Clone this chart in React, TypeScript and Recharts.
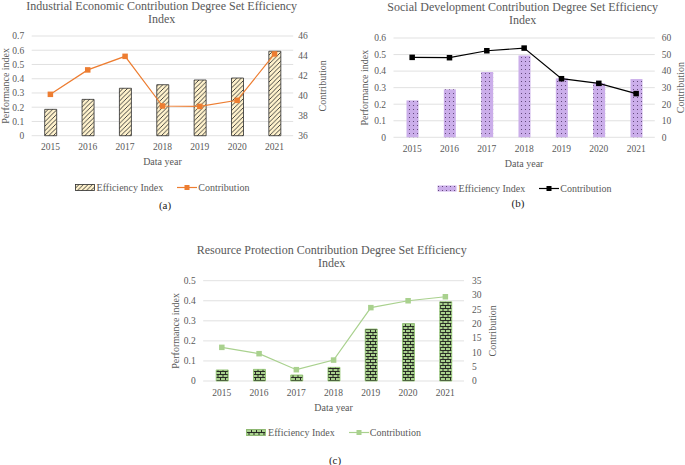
import React from "react";
import {
  ComposedChart,
  Bar,
  Line,
  XAxis,
  YAxis,
  CartesianGrid,
  Legend,
} from "recharts";

const years = ["2015", "2016", "2017", "2018", "2019", "2020", "2021"];

const industrialIndex = [0.185, 0.255, 0.333, 0.358, 0.391, 0.405, 0.593];
const industrialContribution = [40.15, 42.6, 43.96, 38.98, 38.94, 39.55, 44.2];
const industrialIndexTicks = [0, 0.1, 0.2, 0.3, 0.4, 0.5, 0.6, 0.7];
const industrialContributionTicks = [36, 38, 40, 42, 44, 46];

const socialIndex = [0.223, 0.29, 0.394, 0.495, 0.356, 0.326, 0.352];
const socialContribution = [48.3, 48.1, 52.3, 53.9, 35.4, 32.6, 26.4];
const socialIndexTicks = [0, 0.1, 0.2, 0.3, 0.4, 0.5, 0.6];
const socialContributionTicks = [0, 10, 20, 30, 40, 50, 60];

const resourceIndex = [0.055, 0.058, 0.03, 0.068, 0.259, 0.286, 0.395];
const resourceContribution = [11.74, 9.53, 3.95, 7.3, 25.6, 28.0, 29.4];
const resourceIndexTicks = [0, 0.1, 0.2, 0.3, 0.4, 0.5];
const resourceContributionTicks = [0, 5, 10, 15, 20, 25, 30, 35];

const FONT = '"Liberation Serif", "Times New Roman", serif';
const GRAY = "#595959";

const buildRows = (index: number[], contribution: number[]) =>
  years.map((year, i) => ({ year, index: index[i], contribution: contribution[i] }));

const patterns = (
  <defs>
    <pattern id="hatchA" width="4.5" height="4.5" patternUnits="userSpaceOnUse">
      <rect width="4.5" height="4.5" fill="#fff2cc" />
      <path d="M0,4.5 L4.5,0 M-1,1 L1,-1 M3.5,5.5 L5.5,3.5" stroke="#333" strokeWidth="0.9" />
    </pattern>
    <pattern id="dotsB" width="4" height="4" patternUnits="userSpaceOnUse">
      <rect width="4" height="4" fill="#cbaeea" />
      <rect x="1" y="1" width="0.9" height="0.9" fill="#4a3060" />
    </pattern>
    <pattern id="brickC" width="5" height="6" patternUnits="userSpaceOnUse">
      <rect width="5" height="6" fill="#a9d18e" />
      <path
        d="M0,0.5 H5 M0,3.5 H5 M0.5,0.5 V3.5 M3,3.5 V6"
        stroke="#1c1c1c"
        strokeWidth="0.9"
      />
    </pattern>
  </defs>
);

type SquareProps = { cx?: number; cy?: number; fill: string; size: number };

function SquareDot({ cx, cy, fill, size }: SquareProps) {
  if (cx == null || cy == null) return null;
  return <rect x={cx - size / 2} y={cy - size / 2} width={size} height={size} fill={fill} />;
}

type LegendProps = {
  barFill: string;
  barStroke: string;
  lineColor: string;
  markerColor: string;
};

function LegendBox({ barFill, barStroke, lineColor, markerColor }: LegendProps) {
  return (
    <div
      style={{
        display: "flex",
        justifyContent: "center",
        alignItems: "center",
        fontFamily: FONT,
        fontSize: 10,
        color: GRAY,
        height: 14,
        whiteSpace: "nowrap",
      }}
    >
      <svg width={20} height={7} style={{ marginRight: 2 }}>
        <rect x={0.5} y={0.5} width={19} height={6} fill={barFill} stroke={barStroke} strokeWidth={0.8} />
      </svg>
      <span>Efficiency Index</span>
      <svg width={20} height={7} style={{ marginLeft: 14, marginRight: 1 }}>
        <line x1={0} y1={3.5} x2={20} y2={3.5} stroke={lineColor} strokeWidth={1.2} />
        <rect x={7.5} y={1} width={5} height={5} fill={markerColor} />
      </svg>
      <span>Contribution</span>
    </div>
  );
}

type PanelProps = {
  left: number;
  top: number;
  width: number;
  height: number;
  plotLeft: number;
  plotRight: number;
  plotTop: number;
  plotBottom: number;
  title: string[];
  titleTop: number;
  titleCenter: number;
  tag: string;
  tagX: number;
  tagY: number;
  rows: { year: string; index: number; contribution: number }[];
  indexTicks: number[];
  contributionTicks: number[];
  barFill: string;
  barStroke: string;
  lineColor: string;
  markerColor: string;
  leftLabelX: number;
  rightLabelOffset: number;
  rightTickGap: number;
  legendTop: number;
  legendShift: number;
};

function Panel(p: PanelProps) {
  const axisHeight = 32;
  const marginBottom = p.height - p.plotBottom - axisHeight;
  return (
    <>
      <div
        style={{
          position: "absolute",
          left: p.titleCenter - 200,
          top: p.titleTop,
          width: 400,
          textAlign: "center",
          fontFamily: FONT,
          fontSize: 12,
          lineHeight: "13.3px",
          color: GRAY,
        }}
      >
        {p.title.map((t) => (
          <div key={t} style={{ whiteSpace: "nowrap" }}>
            {t}
          </div>
        ))}
      </div>
      <div style={{ position: "absolute", left: p.left, top: p.top }}>
        <ComposedChart
          width={p.width}
          height={p.height}
          data={p.rows}
          margin={{ top: p.plotTop, right: 0, left: 0, bottom: marginBottom }}
          barSize={12}
        >
          {patterns}
          <CartesianGrid vertical={false} stroke="#d9d9d9" strokeWidth={0.8} yAxisId="left" />
          <XAxis
            dataKey="year"
            interval={0}
            axisLine={false}
            tickLine={false}
            height={axisHeight}
            tick={{ fill: GRAY, fontSize: 9.5, fontFamily: FONT }}
            label={{
              value: "Data year",
              position: "insideBottom",
              offset: 2.5,
              fill: GRAY,
              fontSize: 10,
              fontFamily: FONT,
            }}
          />
          <YAxis
            yAxisId="left"
            width={p.plotLeft}
            domain={[p.indexTicks[0], p.indexTicks[p.indexTicks.length - 1]]}
            ticks={p.indexTicks}
            interval={0}
            axisLine={false}
            tickLine={false}
            tickSize={6}
            tickMargin={1.5}
            tick={{ fill: GRAY, fontSize: 9.5, fontFamily: FONT }}
            label={{
              value: "Performance index",
              angle: -90,
              position: "insideLeft",
              offset: p.leftLabelX,
              fill: GRAY,
              fontSize: 10,
              fontFamily: FONT,
              style: { textAnchor: "middle" },
            }}
          />
          <YAxis
            yAxisId="right"
            orientation="right"
            width={p.width - p.plotRight}
            domain={[p.contributionTicks[0], p.contributionTicks[p.contributionTicks.length - 1]]}
            ticks={p.contributionTicks}
            interval={0}
            axisLine={false}
            tickLine={false}
            tickSize={p.rightTickGap}
            tickMargin={0}
            tick={{ fill: GRAY, fontSize: 9.5, fontFamily: FONT }}
            label={{
              value: "Contribution",
              angle: -90,
              position: "insideRight",
              offset: p.rightLabelOffset,
              fill: GRAY,
              fontSize: 10,
              fontFamily: FONT,
              style: { textAnchor: "middle" },
            }}
          />
          <Legend
            layout="horizontal"
            verticalAlign="middle"
            align="center"
            wrapperStyle={{ top: p.legendTop, left: p.legendShift, width: p.width, bottom: "auto" }}
            content={() => (
              <LegendBox
                barFill={p.barFill}
                barStroke={p.barStroke}
                lineColor={p.lineColor}
                markerColor={p.markerColor}
              />
            )}
          />
          <Bar
            yAxisId="left"
            dataKey="index"
            name="Efficiency Index"
            fill={p.barFill}
            stroke={p.barStroke}
            strokeWidth={0.8}
            isAnimationActive={false}
          />
          <Line
            yAxisId="right"
            dataKey="contribution"
            name="Contribution"
            stroke={p.lineColor}
            strokeWidth={1.2}
            dot={(d: any) => (
              <SquareDot key={d.index} cx={d.cx} cy={d.cy} fill={p.markerColor} size={5.5} />
            )}
            activeDot={false}
            isAnimationActive={false}
          />
        </ComposedChart>
      </div>
      <div
        style={{
          position: "absolute",
          left: p.tagX - 20,
          top: p.tagY - 7,
          width: 40,
          textAlign: "center",
          fontFamily: FONT,
          fontSize: 11,
          lineHeight: "14px",
          color: "#222",
        }}
      >
        {p.tag}
      </div>
    </>
  );
}

export default function App() {
  return (
    <div
      style={{
        position: "absolute",
        left: 0,
        top: 0,
        width: 685,
        height: 465,
        background: "#fff",
        overflow: "hidden",
      }}
    >
      <Panel
        left={0}
        top={0}
        width={340}
        height={215}
        plotLeft={31.7}
        plotRight={293.2}
        plotTop={36}
        plotBottom={135.7}
        title={["Industrial Economic Contribution Degree Set Efficiency", "Index"]}
        titleTop={0}
        titleCenter={161.7}
        tag="(a)"
        tagX={165}
        tagY={205}
        rows={buildRows(industrialIndex, industrialContribution)}
        indexTicks={industrialIndexTicks}
        contributionTicks={industrialContributionTicks}
        barFill="url(#hatchA)"
        barStroke="#2b2b2b"
        lineColor="#ed7d31"
        markerColor="#ed7d31"
        leftLabelX={5}
        rightLabelOffset={18}
        rightTickGap={5}
        legendTop={180}
        legendShift={-8}
      />
      <Panel
        left={340}
        top={0}
        width={345}
        height={215}
        plotLeft={53.5}
        plotRight={314.8}
        plotTop={38}
        plotBottom={137.3}
        title={["Social Development Contribution Degree Set Efficiency", "Index"]}
        titleTop={0.5}
        titleCenter={522.7}
        tag="(b)"
        tagX={518}
        tagY={203}
        rows={buildRows(socialIndex, socialContribution)}
        indexTicks={socialIndexTicks}
        contributionTicks={socialContributionTicks}
        barFill="url(#dotsB)"
        barStroke="none"
        lineColor="#000000"
        markerColor="#000000"
        leftLabelX={24}
        rightLabelOffset={5}
        rightTickGap={7}
        legendTop={181}
        legendShift={11.5}
      />
      <Panel
        left={160}
        top={215}
        width={360}
        height={250}
        plotLeft={43.2}
        plotRight={304}
        plotTop={65.7}
        plotBottom={166}
        title={["Resource Protection Contribution Degree Set Efficiency", "Index"]}
        titleTop={243.5}
        titleCenter={331.7}
        tag="(c)"
        tagX={335}
        tagY={460}
        rows={buildRows(resourceIndex, resourceContribution)}
        indexTicks={resourceIndexTicks}
        contributionTicks={resourceContributionTicks}
        barFill="url(#brickC)"
        barStroke="#8cc06a"
        lineColor="#a9d18e"
        markerColor="#a9d18e"
        leftLabelX={15}
        rightLabelOffset={28}
        rightTickGap={8}
        legendTop={210}
        legendShift={-6.5}
      />
    </div>
  );
}
